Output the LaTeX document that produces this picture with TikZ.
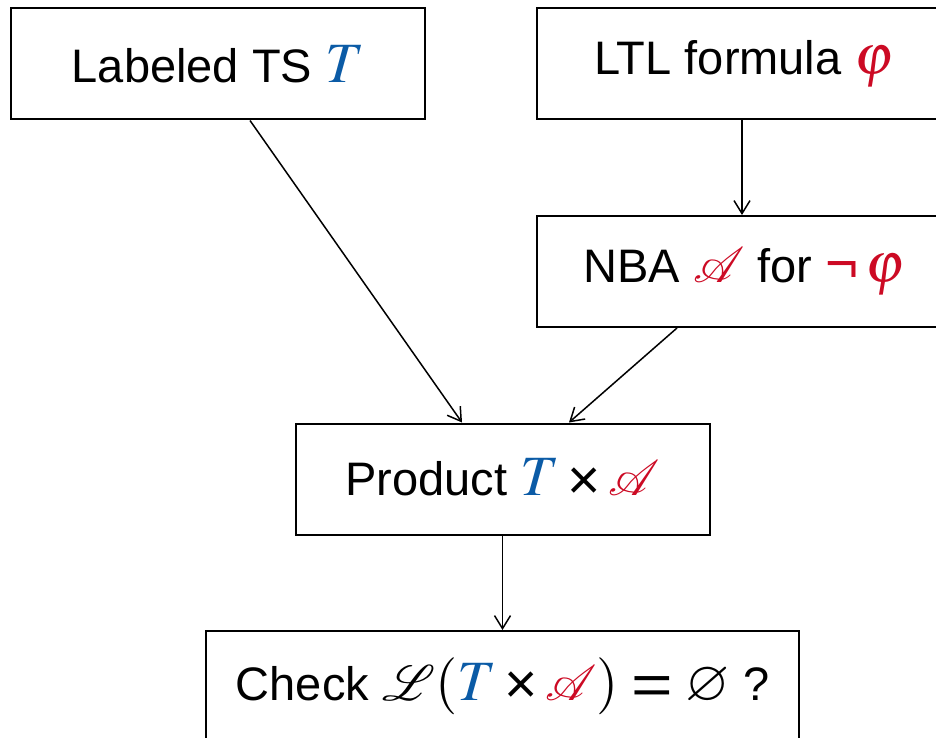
\documentclass[tikz,border=0pt]{standalone}
\usepackage{graphicx}
\usepackage{amssymb}
\usepackage{mathrsfs}
\usepackage{mathptmx}
\usepackage[no-math]{fontspec}
\setmainfont{Liberation Sans}
\usetikzlibrary{arrows.meta}
\definecolor{tsblue}{HTML}{0B5BA6}
\definecolor{fred}{HTML}{CC0A24}
% math set a little larger than the sans text around it
\newcommand{\mt}[1]{{\fontsize{28.5}{30}\selectfont$#1$}}
\newcommand{\TS}{\textcolor{tsblue}{T}}
\newcommand{\NBA}{\textcolor{fred}{\mathscr{A}}}
\newcommand{\prodop}{\mathbin{\raisebox{-1.6pt}{×}}}
\newcommand{\eqop}{\mathrel{\raisebox{-2pt}{\scalebox{1.25}[1]{=}}}}
\begin{document}
\begin{tikzpicture}[x=0.5pt,y=-0.5pt,
  box/.style={draw=black,line width=1pt,rectangle,minimum width=207pt,minimum height=55.5pt,
    inner sep=0pt,font=\fontsize{23.5}{28}\selectfont},
  arr/.style={line width=0.75pt,-{Straight Barb[length=6.5pt,width=8pt,line width=0.75pt]}}]
\useasboundingbox (0,0) rectangle (936,738);
\node[box] (ts) at (218,64) {Labeled TS \mt{\TS}};
\node[box] (ltl) at (744,64) {LTL formula \mt{\textcolor{fred}{\varphi}}};
\node[box] (nba) at (744,271.5) {NBA \mt{\NBA} for \mt{\textcolor{fred}{\mbox{¬}\,\varphi}}};
\node[box] (prod) at (502.5,479) {Product \mt{\TS\prodop\NBA}};
\node[box,minimum width=296.5pt] (check) at (502.5,686.5)
  {Check \mt{\mathscr{L}(\TS\prodop\NBA)\eqop\varnothing}\;?};
\draw[arr] ([xshift=16pt]ts.south) -- ([xshift=-20.25pt]prod.north);
\draw[arr] ([xshift=-1pt]ltl.south) -- ([xshift=-1pt]nba.north);
\draw[arr] ([xshift=-33.5pt]nba.south) -- ([xshift=33.25pt]prod.north);
\draw[arr] (prod.south) -- (check.north);
\end{tikzpicture}
\end{document}
